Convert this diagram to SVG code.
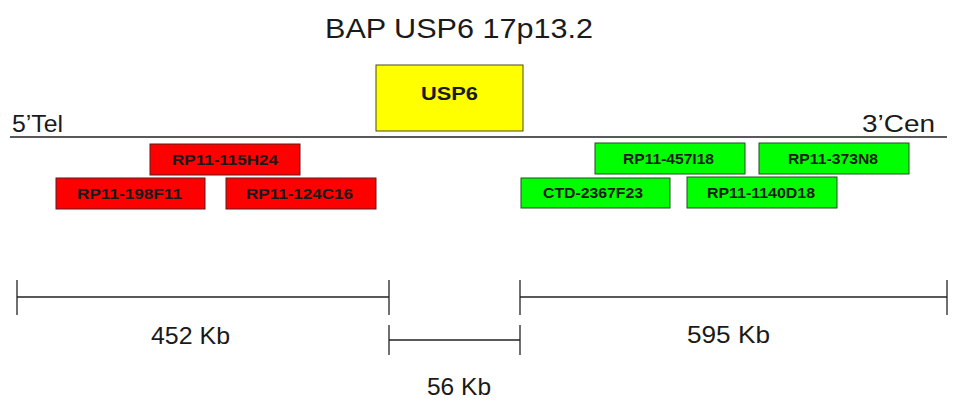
<svg xmlns="http://www.w3.org/2000/svg" width="957" height="402" viewBox="0 0 957 402">
<style>
text{font-family:"Liberation Sans",Arial,sans-serif;fill:#1a1a1a}
.t{font-size:28px}
.lab{font-size:24px}
.bx{font-size:14.5px;font-weight:bold}
.red{fill:#ff0000;stroke:#5a1a1a;stroke-width:1}
.grn{fill:#00ff00;stroke:#1f4f1f;stroke-width:1}
.ln{stroke:#222;stroke-width:1.3;fill:none}
</style>
<rect width="957" height="402" fill="#fff"/>
<text class="t" x="325" y="38" textLength="268" lengthAdjust="spacingAndGlyphs">BAP USP6 17p13.2</text>
<text class="lab" x="12" y="132" textLength="51" lengthAdjust="spacingAndGlyphs">5’Tel</text>
<text class="lab" x="862" y="132" textLength="73" lengthAdjust="spacingAndGlyphs">3’Cen</text>
<g id="connectors">
<line class="ln" x1="10" y1="137" x2="947" y2="137"/>
<line class="ln" x1="17" y1="280" x2="17" y2="315"/>
<line class="ln" x1="17" y1="297" x2="389" y2="297"/>
<line class="ln" x1="389" y1="280" x2="389" y2="315"/>
<line class="ln" x1="520" y1="280" x2="520" y2="315"/>
<line class="ln" x1="520" y1="297" x2="947" y2="297"/>
<line class="ln" x1="947" y1="280" x2="947" y2="315"/>
<line class="ln" x1="389" y1="325" x2="389" y2="355"/>
<line class="ln" x1="520" y1="325" x2="520" y2="355"/>
<line class="ln" x1="389" y1="340" x2="520" y2="340"/>
</g>
<g id="usp6"><rect x="376" y="65" width="147" height="66" fill="#ffff00" stroke="#4a4a1a" stroke-width="1"/><text x="421" y="100" style="font-size:18px;font-weight:bold" textLength="57" lengthAdjust="spacingAndGlyphs">USP6</text></g>
<g id="rp11-115h24"><rect class="red" x="150" y="144" width="150" height="31"/><text class="bx" x="172" y="165" textLength="106" lengthAdjust="spacingAndGlyphs">RP11-115H24</text></g>
<g id="rp11-198f11"><rect class="red" x="56" y="178" width="149" height="31"/><text class="bx" x="77" y="199" textLength="105" lengthAdjust="spacingAndGlyphs">RP11-198F11</text></g>
<g id="rp11-124c16"><rect class="red" x="226" y="178" width="150" height="31"/><text class="bx" x="246" y="199" textLength="107" lengthAdjust="spacingAndGlyphs">RP11-124C16</text></g>
<g id="rp11-457i18"><rect class="grn" x="595" y="143" width="150" height="31"/><text class="bx" x="623" y="164" textLength="91" lengthAdjust="spacingAndGlyphs">RP11-457I18</text></g>
<g id="rp11-373n8"><rect class="grn" x="759" y="143" width="150" height="31"/><text class="bx" x="788" y="164" textLength="90" lengthAdjust="spacingAndGlyphs">RP11-373N8</text></g>
<g id="ctd-2367f23"><rect class="grn" x="521" y="178" width="149" height="30"/><text class="bx" x="543" y="198" textLength="100" lengthAdjust="spacingAndGlyphs">CTD-2367F23</text></g>
<g id="rp11-1140d18"><rect class="grn" x="687" y="177" width="150" height="31"/><text class="bx" x="707" y="198" textLength="108" lengthAdjust="spacingAndGlyphs">RP11-1140D18</text></g>
<text class="lab" x="151" y="344" textLength="79" lengthAdjust="spacingAndGlyphs">452 Kb</text>
<text class="lab" x="687" y="343" textLength="83" lengthAdjust="spacingAndGlyphs">595 Kb</text>
<text class="lab" x="427" y="395" textLength="64" lengthAdjust="spacingAndGlyphs">56 Kb</text>
</svg>
